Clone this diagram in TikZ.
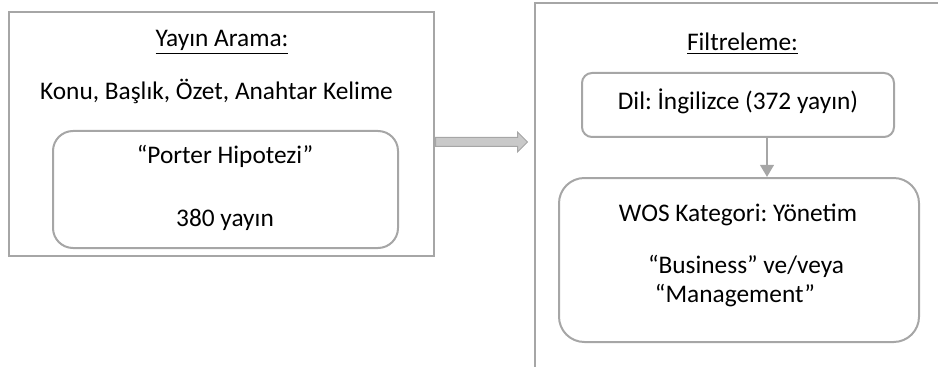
\documentclass[tikz,border=0pt]{standalone}
\usepackage{fontspec}
\setmainfont{Carlito}
\usepackage{tikz}
\usetikzlibrary{arrows.meta,positioning,calc,shapes.arrows}
\definecolor{edgegray}{HTML}{A6A6A6}
\definecolor{shadegray}{HTML}{C9C9C9}
\frenchspacing
\tikzset{
  frame/.style={rectangle, draw=edgegray, line width=1.5pt, inner sep=0pt},
  rbox/.style={rectangle, draw=edgegray, line width=1.5pt, inner sep=0pt},
  txt/.style={font=\fontsize{19}{23}\selectfont, inner sep=0pt, anchor=base},
  bigarr/.style={single arrow, draw=edgegray, fill=shadegray, line width=0.75pt,
                 inner xsep=0pt, inner ysep=3pt, single arrow head extend=4pt,
                 minimum height=69pt, anchor=west},
  fl/.style={-{Triangle[length=9pt,width=10pt]}, draw=edgegray, line width=2pt},
}

\begin{document}
\begin{tikzpicture}[x=0.75pt,y=-0.75pt]
\useasboundingbox (0,0) rectangle (938,367);
\clip (0,0) rectangle (938,367);
% search side
\node[frame, minimum width=318.75pt, minimum height=183pt] (search) at (221.5,134) {};
\node[rbox, rounded corners=15pt, minimum width=258.75pt, minimum height=87.75pt] (porter) at (225.5,189.5) {};
\node[txt] (searchttl) at (222,47) {\underline{Yayın Arama:}};
\node[txt] (fields) at (216.5,100) {Konu, Başlık, Özet, Anahtar Kelime};
\node[txt] (query) at (225,163) {“Porter Hipotezi”};
\node[txt] (hits) at (225,226) {380 yayın};
% filter side
\node[frame, minimum width=318.75pt, minimum height=290.25pt] (filter) at (747.5,196.5) {};
\node[rbox, rounded corners=7.5pt, minimum width=234pt, minimum height=48pt] (dil) at (738,105) {};
\node[rbox, rounded corners=19pt, minimum width=270pt, minimum height=123pt] (wos) at (739,260) {};
\node[txt] (filterttl) at (742.5,51) {\underline{Filtreleme:}};
\node[txt] (lang) at (738,110) {Dil: İngilizce (372 yayın)};
\node[txt] (cat) at (738,221) {WOS Kategori: Yönetim};
\node[txt] (bus) at (746,273) {“Business” ve/veya};
\node[txt] (mgmt) at (735,302) {“Management”};
% connectors
\node[bigarr] (pass) at ([yshift=-6pt]search.east) {};
\draw[fl] ([xshift=21.75pt]dil.south) -- ([xshift=21.75pt]dil.south |- wos.north);
\end{tikzpicture}
\end{document}
